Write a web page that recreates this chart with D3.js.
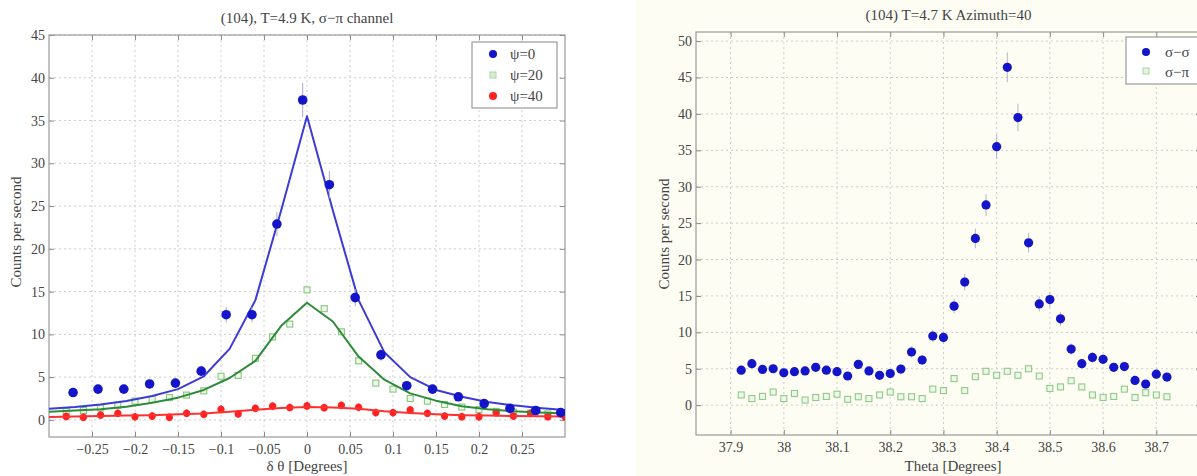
<!DOCTYPE html>
<html>
<head>
<meta charset="utf-8">
<script src="https://cdn.jsdelivr.net/npm/d3@7"></script>
<style>
  body { margin: 0; background: #fff; }
  svg text { font-family: "Liberation Serif", "DejaVu Serif", serif; fill: #444; }
</style>
</head>
<body>
<svg id="chart" width="1197" height="476"></svg>
<script>
// ---- left panel: (104), T=4.9 K, sigma-pi channel ----
var leftXTicks = [-0.25, -0.2, -0.15, -0.1, -0.05, 0, 0.05, 0.1, 0.15, 0.2, 0.25];
var leftYTicks = [0, 5, 10, 15, 20, 25, 30, 35, 40, 45];

var psi0X = [-0.272, -0.243, -0.213, -0.183, -0.153, -0.123, -0.094, -0.064, -0.035, -0.005,
             0.026, 0.056, 0.086, 0.116, 0.146, 0.176, 0.206, 0.236, 0.266, 0.295];
var psi0Y = [3.2, 3.6, 3.6, 4.2, 4.3, 5.7, 12.3, 12.3, 22.9, 37.4,
             27.5, 14.3, 7.6, 4.0, 3.6, 2.7, 1.9, 1.35, 1.1, 0.85];
var psi0Err = [0.5, 0.5, 0.5, 0.55, 0.55, 0.65, 0.9, 0.9, 1.4, 2.0,
               1.6, 1.0, 0.7, 0.5, 0.5, 0.45, 0.4, 0.35, 0.3, 0.3];

var psi20X = [-0.28, -0.26, -0.24, -0.22, -0.2, -0.18, -0.16, -0.14, -0.12, -0.1,
              -0.08, -0.06, -0.04, -0.02, 0, 0.02, 0.04, 0.06, 0.08, 0.1,
              0.12, 0.14, 0.16, 0.18, 0.2, 0.22, 0.24, 0.26, 0.28, 0.3];
var psi20Y = [1.0, 1.1, 1.4, 1.7, 2.2, 2.4, 2.6, 2.9, 3.4, 5.1,
              5.2, 7.2, 9.7, 11.2, 15.2, 13.0, 10.3, 6.9, 4.3, 3.6,
              2.5, 2.2, 1.8, 1.5, 1.2, 1.0, 0.9, 0.8, 0.7, 0.6];

var psi40X = psi20X.slice();
var psi40Y = [0.4, 0.3, 0.57, 0.77, 0.37, 0.45, 0.3, 0.77, 0.65, 1.24,
              0.7, 1.35, 1.6, 1.45, 1.63, 1.43, 1.7, 1.47, 0.85, 0.85,
              1.16, 0.77, 0.45, 0.38, 0.38, 0.85, 0.45, 0.77, 0.38, 0.38];

// fitted curves, read at the fit grid
var fitX = [-0.3, -0.27, -0.24, -0.21, -0.18, -0.15, -0.12, -0.09, -0.06, -0.03, 0,
            0.03, 0.06, 0.09, 0.12, 0.15, 0.18, 0.21, 0.24, 0.27, 0.3];
var fit0 = [1.3, 1.5, 1.8, 2.2, 2.8, 3.6, 5.1, 8.3, 14.0, 24.5, 35.5,
            24.5, 14.0, 7.9, 5.0, 3.5, 2.7, 2.1, 1.7, 1.4, 1.15];
var fit20 = [0.95, 1.1, 1.25, 1.55, 2.0, 2.6, 3.5, 4.9, 6.9, 11.0, 13.7,
             11.5, 7.4, 4.7, 3.1, 2.25, 1.6, 1.25, 1.0, 0.85, 0.75];
var fit40 = [0.35, 0.4, 0.45, 0.5, 0.55, 0.65, 0.75, 0.95, 1.2, 1.4, 1.5,
             1.45, 1.3, 1.0, 0.8, 0.65, 0.55, 0.5, 0.45, 0.42, 0.4];

// ---- right panel: (104) T=4.7 K Azimuth=40 ----
var rightXTicks = [37.9, 38, 38.1, 38.2, 38.3, 38.4, 38.5, 38.6, 38.7];
var rightYTicks = [0, 5, 10, 15, 20, 25, 30, 35, 40, 45, 50];

var thetaX = [37.92, 37.94, 37.96, 37.98, 38.00, 38.02, 38.04, 38.06, 38.08, 38.10,
              38.12, 38.14, 38.16, 38.18, 38.20, 38.22, 38.24, 38.26, 38.28, 38.30,
              38.32, 38.34, 38.36, 38.38, 38.40, 38.42, 38.44, 38.46, 38.48, 38.50,
              38.52, 38.54, 38.56, 38.58, 38.60, 38.62, 38.64, 38.66, 38.68, 38.70, 38.72];
var ssY = [4.8, 5.7, 4.9, 5.0, 4.45, 4.6, 4.7, 5.2, 4.8, 4.6,
           4.0, 5.6, 4.7, 4.1, 4.35, 4.95, 7.3, 6.2, 9.5, 9.3,
           13.6, 16.9, 22.9, 27.5, 35.5, 46.4, 39.5, 22.3, 13.9, 14.5,
           11.85, 7.7, 5.7, 6.55, 6.3, 5.2, 5.3, 3.4, 2.9, 4.25, 3.85];
var ssErr = [0.6, 0.65, 0.6, 0.6, 0.6, 0.6, 0.6, 0.62, 0.6, 0.6,
             0.55, 0.65, 0.6, 0.55, 0.57, 0.6, 0.75, 0.68, 0.85, 0.85,
             1.0, 1.15, 1.35, 1.5, 1.7, 2.05, 1.9, 1.35, 1.05, 1.05,
             0.95, 0.75, 0.65, 0.7, 0.7, 0.62, 0.62, 0.5, 0.47, 0.57, 0.55];
var spY = [1.4, 0.9, 1.2, 1.8, 0.9, 1.6, 0.7, 1.05, 1.2, 1.5,
           0.8, 1.15, 0.9, 1.4, 1.8, 1.15, 1.15, 0.9, 2.2, 2.0,
           3.65, 2.0, 3.9, 4.65, 4.1, 4.65, 4.1, 5.0, 4.0, 2.3,
           2.5, 3.35, 2.5, 1.4, 1.05, 1.2, 2.2, 1.05, 1.7, 1.4, 1.15];

var svg = d3.select("#chart");
svg.append("rect").attr("x", 0).attr("y", 0).attr("width", 1197).attr("height", 476).attr("fill", "#ffffff");
svg.append("rect").attr("x", 636).attr("y", 0).attr("width", 561).attr("height", 476).attr("fill", "#fdfdf4");

function makePanel(opt) {
  var g = svg.append("g");
  var x = d3.scaleLinear().domain(opt.xDomain).range([opt.left, opt.right]);
  var y = d3.scaleLinear().domain(opt.yDomain).range([opt.bottom, opt.top]);

  var clipId = "clip_" + opt.id;
  svg.append("clipPath").attr("id", clipId)
    .append("rect")
    .attr("x", opt.left).attr("y", opt.top)
    .attr("width", opt.right - opt.left).attr("height", opt.bottom - opt.top);

  // dotted grid
  var grid = g.append("g").attr("class", "grid");
  grid.selectAll(".gx").data(opt.xTicks.filter(function (d) { return x(d) > opt.left && x(d) < opt.right; }))
    .enter().append("line")
    .attr("x1", function (d) { return x(d); }).attr("x2", function (d) { return x(d); })
    .attr("y1", opt.top).attr("y2", opt.bottom)
    .attr("stroke", "#cdcdcd").attr("stroke-dasharray", "2,3").attr("stroke-width", 1);
  grid.selectAll(".gy").data(opt.yTicks)
    .enter().append("line")
    .attr("x1", opt.left).attr("x2", opt.right)
    .attr("y1", function (d) { return y(d); }).attr("y2", function (d) { return y(d); })
    .attr("stroke", "#cdcdcd").attr("stroke-dasharray", "2,3").attr("stroke-width", 1);

  // axes with inner ticks
  var fmt = opt.fmt;
  g.append("g").attr("transform", "translate(0," + opt.bottom + ")")
    .call(d3.axisBottom(x).tickValues(opt.xTicks).tickFormat(fmt).tickSizeInner(-5).tickSizeOuter(0).tickPadding(7))
    .call(styleAxis);
  g.append("g").attr("transform", "translate(0," + opt.top + ")")
    .call(d3.axisTop(x).tickValues(opt.xTicks).tickFormat("").tickSizeInner(-5).tickSizeOuter(0))
    .call(styleAxis);
  g.append("g").attr("transform", "translate(" + opt.left + ",0)")
    .call(d3.axisLeft(y).tickValues(opt.yTicks).tickFormat(d3.format("d")).tickSizeInner(-5).tickSizeOuter(0).tickPadding(4))
    .call(styleAxis);
  g.append("g").attr("transform", "translate(" + opt.right + ",0)")
    .call(d3.axisRight(y).tickValues(opt.yTicks).tickFormat("").tickSizeInner(-5).tickSizeOuter(0))
    .call(styleAxis);

  g.append("rect")
    .attr("x", opt.left).attr("y", opt.top)
    .attr("width", opt.right - opt.left).attr("height", opt.bottom - opt.top)
    .attr("fill", "none").attr("stroke", "#9a9a9a").attr("stroke-width", 1.2);

  g.append("text").attr("x", (opt.left + opt.right) / 2).attr("y", opt.titleY)
    .attr("text-anchor", "middle").style("font-size", "15px").text(opt.title);
  g.append("text").attr("x", opt.xLabelX).attr("y", opt.xLabelY)
    .attr("text-anchor", "middle").style("font-size", "15px").text(opt.xLabel);
  g.append("text")
    .attr("transform", "translate(" + opt.yLabelX + "," + opt.yLabelY + ") rotate(-90)")
    .attr("text-anchor", "middle").style("font-size", "15px").text("Counts per second");

  var plot = svg.append("g").attr("clip-path", "url(#" + clipId + ")");
  return { x: x, y: y, g: g, plot: plot };
}

function styleAxis(sel) {
  sel.attr("font-family", null);
  sel.select(".domain").remove();
  sel.selectAll(".tick line").attr("stroke", "#8a8a8a");
  sel.selectAll(".tick text")
    .style("font-family", "'Liberation Serif', 'DejaVu Serif', serif")
    .style("font-size", "14px").attr("fill", "#4a4a4a");
}

function minusFmt(d) {
  if (d === 0) return "0";
  var s = d3.format("")(+d.toFixed(2));
  return s.replace("-", "\u2212");
}

// ===== left panel =====
var L = makePanel({
  id: "left",
  left: 49, right: 565, top: 35, bottom: 437,
  xDomain: [-0.3, 0.3], yDomain: [-2, 45],
  xTicks: leftXTicks, yTicks: leftYTicks, fmt: minusFmt,
  title: "(104), T=4.9 K, \u03c3\u2212\u03c0 channel", titleY: 23,
  xLabel: "\u03b4 \u03b8 [Degrees]", xLabelX: 307, xLabelY: 471,
  yLabelX: 21, yLabelY: 232
});

function addErrorBars(panel, xs, ys, es, color, width) {
  panel.plot.selectAll(null).data(xs).enter().append("line")
    .attr("x1", function (d) { return panel.x(d); })
    .attr("x2", function (d) { return panel.x(d); })
    .attr("y1", function (d, i) { return panel.y(ys[i] - es[i]); })
    .attr("y2", function (d, i) { return panel.y(ys[i] + es[i]); })
    .attr("stroke", color).attr("stroke-width", width);
}

function addLine(panel, xs, ys, color) {
  var line = d3.line()
    .x(function (d) { return panel.x(d); })
    .y(function (d, i) { return panel.y(ys[i]); });
  panel.plot.append("path").datum(xs)
    .attr("d", line).attr("fill", "none")
    .attr("stroke", color).attr("stroke-width", 2).attr("stroke-linejoin", "round");
}

function addDots(panel, xs, ys, r, color) {
  panel.plot.selectAll(null).data(xs).enter().append("circle")
    .attr("cx", function (d) { return panel.x(d); })
    .attr("cy", function (d, i) { return panel.y(ys[i]); })
    .attr("r", r).attr("fill", color);
}

function addSquares(panel, xs, ys, s, color) {
  panel.plot.selectAll(null).data(xs).enter().append("rect")
    .attr("x", function (d) { return panel.x(d) - s / 2; })
    .attr("y", function (d, i) { return panel.y(ys[i]) - s / 2; })
    .attr("width", s).attr("height", s)
    .attr("fill", "#eef7ea").attr("stroke", color).attr("stroke-width", 1.1);
}

// green psi=20 squares (with small error bars) under the lines
var psi20Err = psi20Y.map(function () { return 0.35; });
addErrorBars(L, psi20X, psi20Y, psi20Err, "#b5dcb0", 1);
addSquares(L, psi20X, psi20Y, 6, "#86c67e");

// red psi=40 points
var psi40Err = psi40Y.map(function () { return 0.45; });
addErrorBars(L, psi40X, psi40Y, psi40Err, "#ff2a2a", 2);
addDots(L, psi40X, psi40Y, 3.6, "#ff2222");

// fits
addLine(L, fitX, fit40, "#ff3030");
addLine(L, fitX, fit20, "#2e8b3a");
addLine(L, fitX, fit0, "#3b3bd6");

// blue psi=0 points
addErrorBars(L, psi0X, psi0Y, psi0Err, "#a8a8c8", 1);
addDots(L, psi0X, psi0Y, 4.8, "#1414c8");

// legend left
var legL = svg.append("g");
legL.append("rect").attr("x", 472).attr("y", 42).attr("width", 85).attr("height", 66)
  .attr("fill", "#ffffff").attr("stroke", "#9a9a9a").attr("stroke-width", 1.2);
var legLItems = [
  { label: "\u03c8=0", y: 54, kind: "dot", color: "#1414c8" },
  { label: "\u03c8=20", y: 75, kind: "sq", color: "#a9d6a2" },
  { label: "\u03c8=40", y: 96, kind: "dot", color: "#ff2222" }
];
legLItems.forEach(function (it) {
  if (it.kind === "dot") {
    legL.append("circle").attr("cx", 493).attr("cy", it.y).attr("r", 4).attr("fill", it.color);
  } else {
    legL.append("rect").attr("x", 490).attr("y", it.y - 3).attr("width", 6).attr("height", 6)
      .attr("fill", "#d7ecd2").attr("stroke", it.color);
  }
  legL.append("text").attr("x", 510).attr("y", it.y + 5).style("font-size", "15px").text(it.label);
});

// ===== right panel =====
var R = makePanel({
  id: "right",
  left: 696, right: 1201, top: 32, bottom: 435,
  xDomain: [37.835, 38.784], yDomain: [-4.1, 51.25],
  xTicks: rightXTicks, yTicks: rightYTicks, fmt: d3.format(""),
  title: "(104) T=4.7 K Azimuth=40", titleY: 20,
  xLabel: "Theta [Degrees]", xLabelX: 953, xLabelY: 471,
  yLabelX: 669, yLabelY: 234
});

var spErr = spY.map(function () { return 0.3; });
addErrorBars(R, thetaX, spY, spErr, "#c4e3bf", 1);
addSquares(R, thetaX, spY, 6, "#8fcb87");

addErrorBars(R, thetaX, ssY, ssErr, "#b4b4c8", 1);
addDots(R, thetaX, ssY, 4.6, "#1414c8");

// legend right
var legR = svg.append("g");
legR.append("rect").attr("x", 1126).attr("y", 37).attr("width", 80).attr("height", 47)
  .attr("fill", "#ffffff").attr("stroke", "#9a9a9a").attr("stroke-width", 1.2);
legR.append("circle").attr("cx", 1146).attr("cy", 52).attr("r", 4).attr("fill", "#1414c8");
legR.append("rect").attr("x", 1143).attr("y", 68).attr("width", 6).attr("height", 6)
  .attr("fill", "#e4f2df").attr("stroke", "#a9d6a2");
legR.append("text").attr("x", 1165).attr("y", 57).style("font-size", "15px").text("\u03c3\u2212\u03c3");
legR.append("text").attr("x", 1165).attr("y", 77).style("font-size", "15px").text("\u03c3\u2212\u03c0");
</script>
</body>
</html>
